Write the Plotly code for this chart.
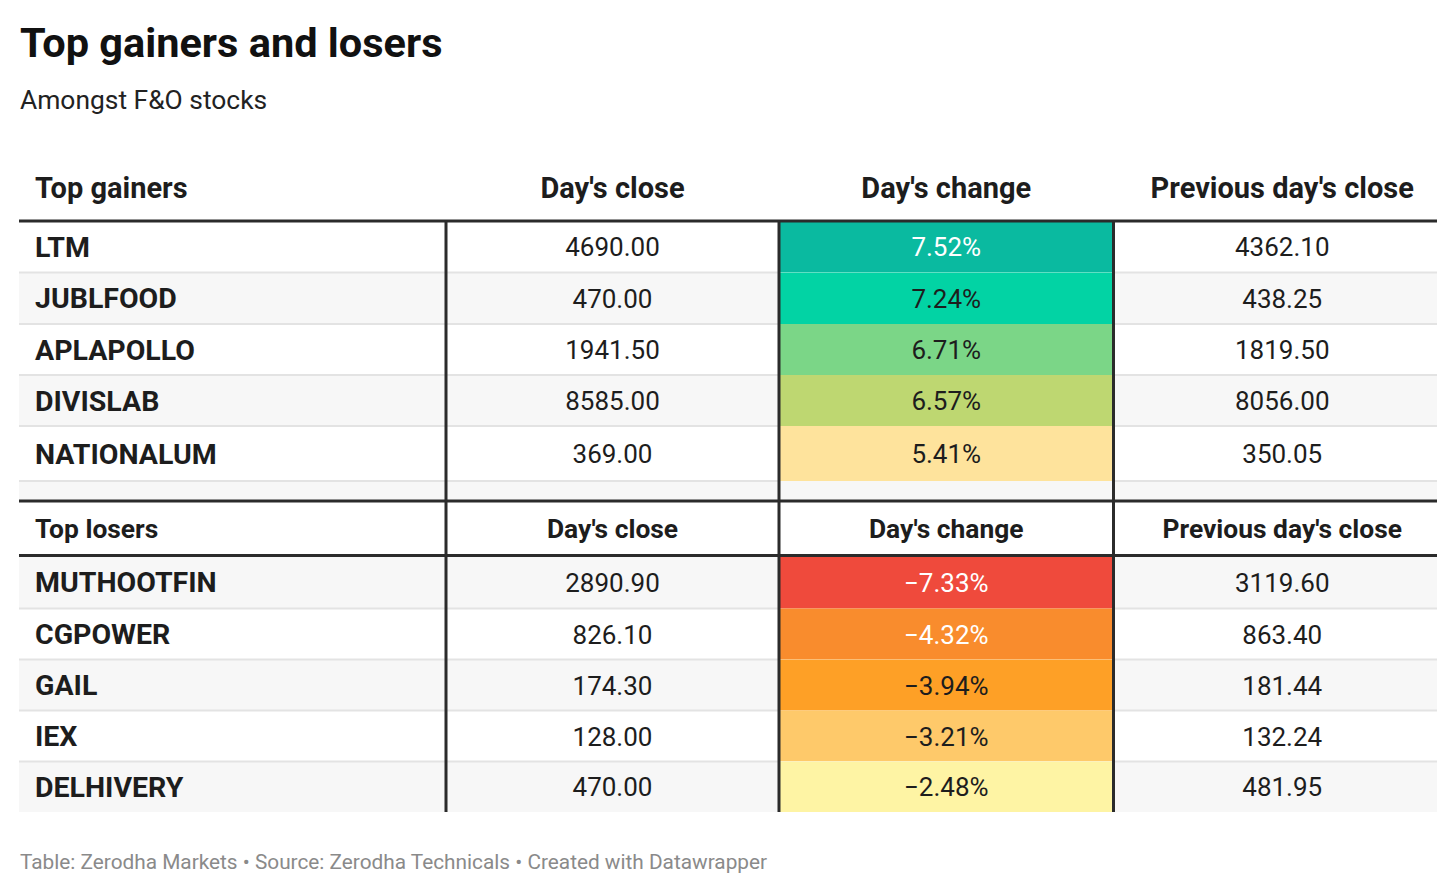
import numpy as np
import plotly.graph_objects as go

# data
gainers = ["LTM", "JUBLFOOD", "APLAPOLLO", "DIVISLAB", "NATIONALUM"]
gainers_close = [4690.00, 470.00, 1941.50, 8585.00, 369.00]
gainers_change = [7.52, 7.24, 6.71, 6.57, 5.41]
gainers_prev = [4362.10, 438.25, 1819.50, 8056.00, 350.05]

losers = ["MUTHOOTFIN", "CGPOWER", "GAIL", "IEX", "DELHIVERY"]
losers_close = [2890.90, 826.10, 174.30, 128.00, 470.00]
losers_change = [-7.33, -4.32, -3.94, -3.21, -2.48]
losers_prev = [3119.60, 863.40, 181.44, 132.24, 481.95]

gainers_header = ["Top gainers", "Day's close", "Day's change", "Previous day's close"]
losers_header = ["Top losers", "Day's close", "Day's change", "Previous day's close"]

# colours of the "Day's change" cells
gainers_fill = ["#0abaa0", "#02d3a4", "#7bd687", "#bed771", "#fee39c"]
losers_fill = ["#ef4a3c", "#f98c2d", "#fea026", "#fec96a", "#fef4a4"]
white_text = {7.52, -7.33, -4.32}

# layout (pixels); the page body adds an 8px offset
W, H = 1456, 894
body = 8
table_left, table_top = 19, 160
col_widths = [427, 333, 334.5, 323.5]
text_shift = [16, 0, 0, 7]
h_head1 = 61
h_gainers = [51.5, 51.5, 51, 51, 55]
h_spacer = 20
h_head2 = 54.5
h_losers = [53, 51, 51, 51, 50.5]
y_nudge = {"head1": 0, "head2": 3.5, "data": 3, "spacer": 0}

ink = "#1d1d1d"
rule = "#2b2b2b"
thin = "#e3e3e3"
zebra = "#f7f7f7"
font = "Roboto"


def pct(v):
    return f"{v:.2f}%".replace("-", "\u2212")


# rows: kind, cells, height, change fill, change text colour
rows = [("head1", gainers_header, h_head1, None, ink)]
for i in range(len(gainers)):
    rows.append(("data", [gainers[i], f"{gainers_close[i]:.2f}", pct(gainers_change[i]),
                          f"{gainers_prev[i]:.2f}"], h_gainers[i], gainers_fill[i],
                 "white" if gainers_change[i] in white_text else ink))
rows.append(("spacer", ["", "", "", ""], h_spacer, None, ink))
rows.append(("head2", losers_header, h_head2, None, ink))
for i in range(len(losers)):
    rows.append(("data", [losers[i], f"{losers_close[i]:.2f}", pct(losers_change[i]),
                          f"{losers_prev[i]:.2f}"], h_losers[i], losers_fill[i],
                 "white" if losers_change[i] in white_text else ink))

x_edges = table_left + np.cumsum([0] + col_widths)
y_edges = table_top + np.cumsum([0] + [r[2] for r in rows])

shapes = []
# row backgrounds (zebra) and coloured change cells
for k, row in enumerate(rows[1:], start=1):
    y0, y1 = y_edges[k], y_edges[k + 1]
    if (k - 1) % 2 == 1:
        shapes.append(dict(type="rect", x0=x_edges[0], x1=x_edges[-1], y0=y0, y1=y1,
                           fillcolor=zebra, line_width=0, layer="below"))
    if row[3]:
        shapes.append(dict(type="rect", x0=x_edges[2], x1=x_edges[3], y0=y0, y1=y1,
                           fillcolor=row[3], line_width=0, layer="below"))

# thin separators between data rows (not across the coloured column)
for k in range(1, len(rows) - 1):
    if rows[k][0] == "data" and rows[k + 1][0] in ("data", "spacer"):
        y = y_edges[k + 1]
        for xa, xb in [(x_edges[0], x_edges[2]), (x_edges[3], x_edges[-1])]:
            shapes.append(dict(type="line", x0=xa, x1=xb, y0=y, y1=y,
                               line=dict(color=thin, width=2), layer="below"))

# thick rules under / around headers
for k, row in enumerate(rows):
    if row[0] == "head1":
        ys = [y_edges[k + 1]]
    elif row[0] == "head2":
        ys = [y_edges[k], y_edges[k + 1]]
    else:
        continue
    for y in ys:
        shapes.append(dict(type="line", x0=x_edges[0], x1=x_edges[-1], y0=y, y1=y,
                           line=dict(color=rule, width=3), layer="below"))

# thick vertical rules
for x in x_edges[1:-1]:
    shapes.append(dict(type="line", x0=x, x1=x, y0=y_edges[1], y1=y_edges[-1],
                       line=dict(color=rule, width=3), layer="below"))

fig = go.Figure()

sizes = {"head1": 29, "head2": 26.4, "spacer": 26}
name_size, value_size = 28.5, 26
for c in range(4):
    xs, ys, txt, cols, szs = [], [], [], [], []
    for k, row in enumerate(rows):
        if row[0] == "spacer":
            continue
        t = row[1][c]
        if row[0] != "data" or c == 0:
            t = f"<b>{t}</b>"
        if c == 0:
            xs.append(x_edges[0] + text_shift[0])
        else:
            xs.append((x_edges[c] + x_edges[c + 1]) / 2 + text_shift[c])
        ys.append((y_edges[k] + y_edges[k + 1]) / 2 + y_nudge[row[0]])
        txt.append(t)
        cols.append(row[4] if (c == 2 and row[0] == "data") else ink)
        if row[0] == "data":
            szs.append(name_size if c == 0 else value_size)
        else:
            szs.append(sizes[row[0]])
    fig.add_trace(go.Scatter(
        x=xs, y=ys, text=txt, mode="text",
        textposition="middle right" if c == 0 else "middle center",
        textfont=dict(family=font, size=szs, color=cols),
        hoverinfo="skip", showlegend=False,
    ))

annotations = [
    dict(text="<b>Top gainers and losers</b>", x=18, y=42, font=dict(size=41.5, color="#111111", family=font)),
    dict(text="Amongst F&O stocks", x=18, y=100, font=dict(size=26.4, color="#222222", family=font)),
    dict(text="Table: Zerodha Markets \u2022 Source: Zerodha Technicals \u2022 Created with Datawrapper",
         x=18, y=862, font=dict(size=20.8, color="#8a8a8a", family=font)),
]
for a in annotations:
    a.update(xref="x", yref="y", xanchor="left", yanchor="middle", showarrow=False)

fig.update_layout(
    width=W, height=H,
    margin=dict(l=0, r=0, t=0, b=0),
    paper_bgcolor="white", plot_bgcolor="white",
    xaxis=dict(range=[body, W + body], visible=False, fixedrange=True),
    yaxis=dict(range=[H + body, body], visible=False, fixedrange=True),
    shapes=shapes, annotations=annotations,
)

fig.write_html("out.html")
